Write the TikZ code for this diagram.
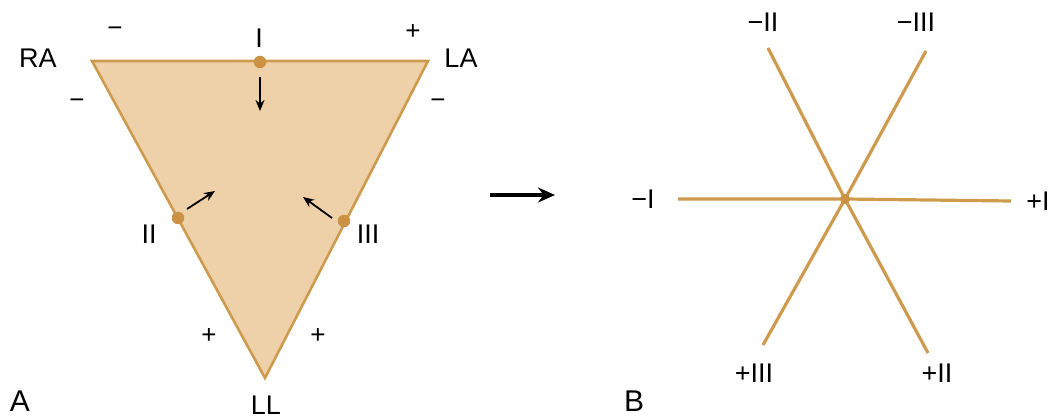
\documentclass[tikz,border=0pt]{standalone}
\usepackage{fontspec}
\setmainfont{Liberation Sans}
\usetikzlibrary{arrows.meta}
\definecolor{tfill}{RGB}{238,209,168}
\definecolor{tline}{RGB}{206,154,78}
\definecolor{tdot}{RGB}{202,146,66}
\begin{document}
\begin{tikzpicture}[x=1pt,y=-1pt,
  lbl/.style={font=\fontsize{27}{27}\selectfont, inner sep=0pt},
  big/.style={font=\fontsize{30}{30}\selectfont, inner sep=0pt, anchor=base},
  sgn/.style={font=\fontsize{26}{26}\selectfont, inner sep=0pt},
  dotn/.style={circle, fill=tdot, minimum size=12.5pt, inner sep=0pt},
  arr/.style={-{Stealth[length=11pt,width=9pt]}, line width=1.8pt, black},
  axis/.style={tline, line width=3.2pt}]
\useasboundingbox (0,0) rectangle (1054,419);
% Panel A
\coordinate (RA) at (92,61);
\coordinate (LA) at (428,61);
\coordinate (LL) at (265,378);
\filldraw[fill=tfill, draw=tline, line width=2.6pt, line join=miter] (RA) -- (LA) -- (LL) -- cycle;
\node[dotn] (dI) at (260,62) {};
\node[dotn] (dII) at (178,218) {};
\node[dotn] (dIII) at (344,221) {};
\coordinate (aIs) at (260,77); \coordinate (aIe) at (260,111);
\coordinate (aIIs) at (187,209); \coordinate (aIIe) at (215,191);
\coordinate (aIIIs) at (332,218); \coordinate (aIIIe) at (303,197);
\draw[arr] (aIs) -- (aIe);
\draw[arr] (aIIs) -- (aIIe);
\draw[arr] (aIIIs) -- (aIIIe);
\node[lbl] (tRA) at (38,58) {RA};
\node[lbl] (tLA) at (461,58) {LA};
\node[lbl] (tI) at (259,38) {I};
\node[lbl] (tII) at (149,234) {II};
\node[lbl] (tIII) at (368,234) {III};
\node[lbl] (tLL) at (266,405) {LL};
\node[sgn] (s1) at (115,32) {−};
\node[sgn] (s2) at (413,32) {+};
\node[sgn] (s3) at (77,104) {−};
\node[sgn] (s4) at (438,104) {−};
\node[sgn] (s5) at (209,336) {+};
\node[sgn] (s6) at (318,336) {+};
\node[big] (tA) at (20,411) {A};
% transition arrow
\coordinate (bigs) at (490,195); \coordinate (bige) at (555,195);
\draw[-{Stealth[length=17pt,width=15pt]}, line width=3.2pt] (bigs) -- (bige);
% Panel B
\coordinate (C) at (845,199);
\coordinate (mI) at (678,199); \coordinate (pI) at (1011,201);
\coordinate (mII) at (768,48); \coordinate (pII) at (928,353);
\coordinate (mIII) at (926,51); \coordinate (pIII) at (763,345);
\draw[axis] (mI) -- (C) -- (pI);
\draw[axis] (mII) -- (C) -- (pII);
\draw[axis] (mIII) -- (C) -- (pIII);
\node[dotn, minimum size=10pt] (dC) at (C) {};
\node[lbl] (tmI) at (643,199) {−I};
\node[lbl] (tpI) at (1038,201) {+I};
\node[lbl] (tmII) at (763,22) {−II};
\node[lbl] (tmIII) at (916,22) {−III};
\node[lbl] (tpIII) at (754,373) {+III};
\node[lbl] (tpII) at (937,373) {+II};
\node[big] (tB) at (634,411) {B};
\end{tikzpicture}
\end{document}
